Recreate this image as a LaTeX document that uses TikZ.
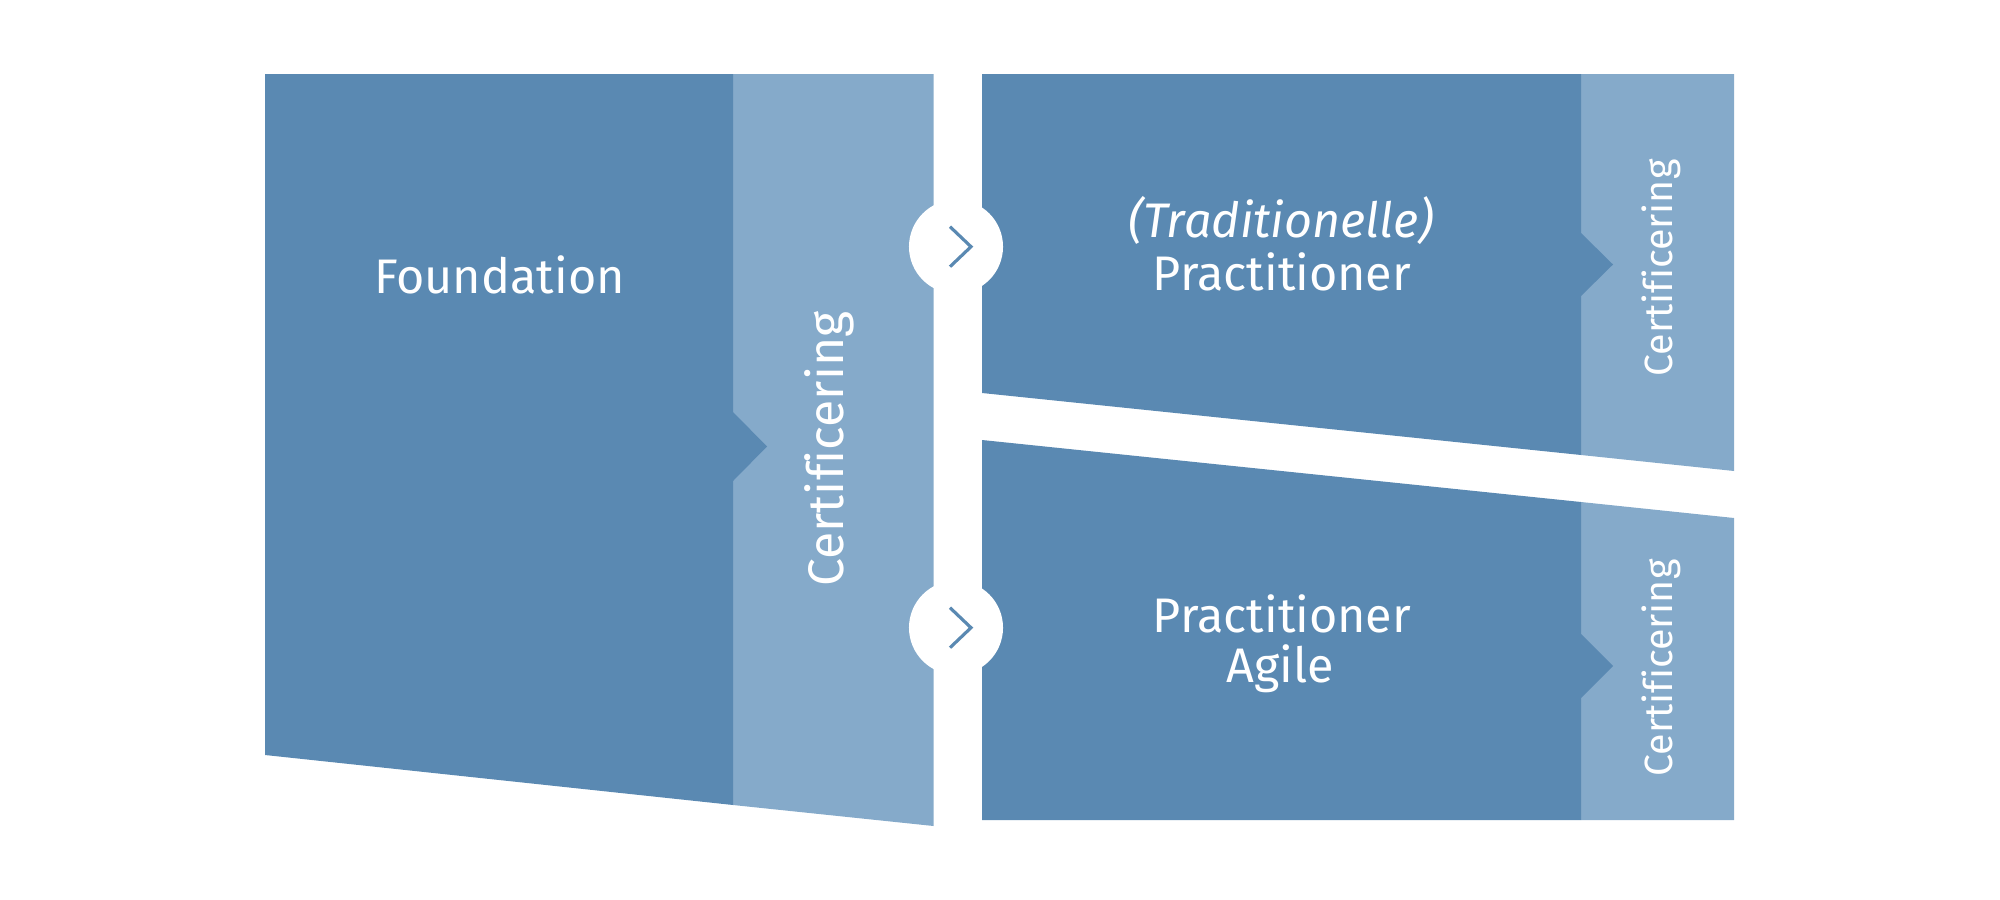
\documentclass[tikz,border=0pt]{standalone}
\usepackage{fontspec}
\setmainfont[Ligatures=NoCommon]{Fira Sans}
\definecolor{darkblue}{HTML}{5A89B2}
\definecolor{lightblue}{HTML}{85AACA}
\begin{document}
\begin{tikzpicture}[x=0.01cm,y=-0.01cm,
  dark/.style={fill=darkblue},
  light/.style={fill=lightblue},
  lbl/.style={text=white,font=\fontsize{13.8pt}{15pt}\selectfont,anchor=base,inner sep=0pt},
  certbig/.style={text=white,font=\fontsize{14.2pt}{15pt}\selectfont,anchor=base,inner sep=0pt,rotate=90},
  certsmall/.style={text=white,font=\fontsize{11.2pt}{12pt}\selectfont,anchor=base,inner sep=0pt,rotate=90},
  hole/.style={circle,fill=white,minimum size=0.94cm,inner sep=0pt},
  chev/.style={draw=darkblue,line width=0.9pt}
]
\useasboundingbox (0,0) rectangle (2000,900);
% Foundation
\fill[light] (733,74) -- (933.5,74) -- (933.5,826) -- (733,805) -- cycle;
\fill[dark] (265,74) -- (733,74) -- (733,412) -- (767,446.5) -- (733,481) -- (733,805) -- (265,755) -- cycle;
% Practitioner (top)
\fill[light] (1581,74) -- (1734,74) -- (1734,471) -- (1581,455) -- cycle;
\fill[dark] (982,74) -- (1581,74) -- (1581,233) -- (1613,264.5) -- (1581,296) -- (1581,455) -- (982,393) -- cycle;
% Practitioner Agile (bottom)
\fill[light] (1581,502) -- (1734,518) -- (1734,820) -- (1581,820) -- cycle;
\fill[dark] (982,440) -- (1581,502) -- (1581,634) -- (1613,666) -- (1581,698) -- (1581,820) -- (982,820) -- cycle;
% circles with chevrons
\node[hole] (c1) at (956,246.7) {};
\node[hole] (c2) at (956,627.7) {};
\draw[chev] ([shift={(-6,-20)}]c1.center) -- ([shift={(15,0)}]c1.center) -- ([shift={(-6,20)}]c1.center);
\draw[chev] ([shift={(-6,-20)}]c2.center) -- ([shift={(15,0)}]c2.center) -- ([shift={(-6,20)}]c2.center);
% texts
\node[lbl] (found) at (499.5,293) {Foundation};
\node[certbig] (cert1) at (843,449) {Certificering};
\node[lbl] (trad) at (1281,237) {\itshape (Traditionelle)};
\node[lbl] (prac1) at (1282,290) {Practitioner};
\node[lbl] (prac2) at (1282,632) {Practitioner};
\node[lbl] (agile) at (1280,682) {Agile};
\node[certsmall] (cert2) at (1672,268) {Certificering};
\node[certsmall] (cert3) at (1672,668) {Certificering};
\end{tikzpicture}
\end{document}
